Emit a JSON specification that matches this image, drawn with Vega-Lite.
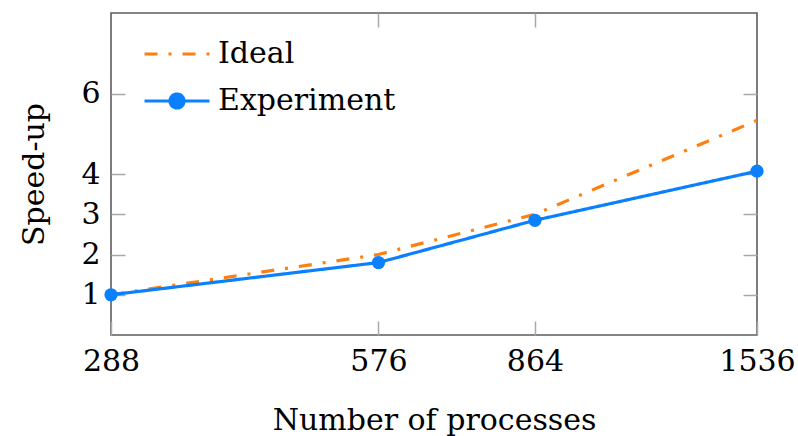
{
  "$schema": "https://vega.github.io/schema/vega-lite/v6.json",
  "width": 646,
  "height": 322,
  "autosize": "none",
  "padding": {"left": 111, "top": 13, "right": 41, "bottom": 101},
  "background": "white",
  "config": {
    "font": "DejaVu Serif",
    "view": {"stroke": "#5c5c5c", "strokeWidth": 1.6},
    "axis": {
      "domain": false,
      "grid": false,
      "tickSize": -14,
      "tickColor": "#a8a8a8",
      "tickWidth": 1.5,
      "labelFont": "DejaVu Serif",
      "labelFontSize": 30,
      "labelColor": "#000000",
      "titleFont": "DejaVu Serif",
      "titleFontSize": 30,
      "titleFontWeight": "normal",
      "titleColor": "#000000"
    }
  },
  "data": {
    "values": [
      {"n": 288, "series": "Ideal", "speedup": 1},
      {"n": 576, "series": "Ideal", "speedup": 2},
      {"n": 864, "series": "Ideal", "speedup": 3},
      {"n": 1536, "series": "Ideal", "speedup": 5.333},
      {"n": 288, "series": "Experiment", "speedup": 1},
      {"n": 576, "series": "Experiment", "speedup": 1.8},
      {"n": 864, "series": "Experiment", "speedup": 2.85},
      {"n": 1536, "series": "Experiment", "speedup": 4.07}
    ]
  },
  "layer": [
    {
      "mark": {"type": "line", "strokeWidth": 3.2},
      "encoding": {
        "x": {
          "field": "n", "type": "quantitative",
          "scale": {"type": "log", "domain": [288, 1536], "nice": false},
          "axis": {"orient": "bottom", "values": [288, 576, 864, 1536], "format": "d", "labelFlush": false, "labelPadding": 25, "title": "Number of processes", "titlePadding": 29}
        },
        "y": {
          "field": "speedup", "type": "quantitative",
          "scale": {"domain": [0, 8], "nice": false, "zero": false},
          "axis": {"orient": "left", "values": [1, 2, 3, 4, 6], "labelPadding": 25, "title": "Speed-up", "titlePadding": 31}
        },
        "color": {
          "field": "series", "type": "nominal",
          "scale": {"domain": ["Ideal", "Experiment"], "range": ["#ff7f0e", "#0a80ff"]},
          "legend": {
            "title": null,
            "orient": "none",
            "legendX": 51,
            "legendY": 26,
            "padding": 0,
            "labelFont": "DejaVu Serif",
            "labelFontSize": 30,
            "labelColor": "#000000",
            "labelLimit": 0,
            "labelOffset": 26,
            "rowPadding": 17,
            "symbolSize": 264,
            "symbolStrokeWidth": 3.2,
            "symbolType": "M-4,0H4",
            "encode": {
              "symbols": {
                "update": {
                  "shape": {"signal": "datum.value === 'Experiment' ? 'M-4,0H4M-0.86,0A0.86,0.86,0,1,0,0.86,0A0.86,0.86,0,1,0,-0.86,0Z' : 'M-4,0H4'"},
                  "strokeDash": {"signal": "datum.value === 'Ideal' ? [3, 11, 13, 11] : [1, 0]"},
                  "fill": {"signal": "datum.value === 'Experiment' ? '#0a80ff' : 'transparent'"},
                  "fillOpacity": {"value": 1},
                  "opacity": {"value": 1}
                }
              }
            }
          }
        },
        "strokeDash": {
          "field": "series", "type": "nominal",
          "scale": {"domain": ["Ideal", "Experiment"], "range": [[13, 11, 3, 11], [1, 0]]},
          "legend": null
        }
      }
    },
    {
      "transform": [{"filter": "datum.series === 'Experiment'"}],
      "mark": {"type": "point", "filled": true, "size": 175, "opacity": 1},
      "encoding": {
        "x": {
          "field": "n", "type": "quantitative",
          "axis": {"orient": "top", "values": [576, 864], "labels": false, "title": null}
        },
        "y": {
          "field": "speedup", "type": "quantitative",
          "axis": {"orient": "right", "values": [1, 2, 3, 4, 6], "labels": false, "title": null}
        },
        "color": {"field": "series", "type": "nominal"}
      }
    }
  ],
  "resolve": {"axis": {"x": "independent", "y": "independent"}}
}
